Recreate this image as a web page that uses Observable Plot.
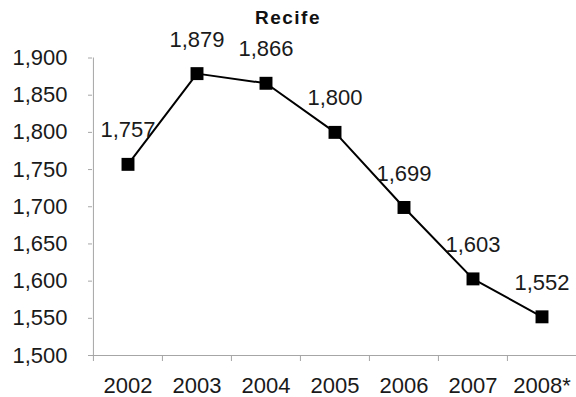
<!DOCTYPE html>
<html>
<head>
<meta charset="utf-8">
<script src="https://cdn.jsdelivr.net/npm/d3@7"></script>
<script src="https://cdn.jsdelivr.net/npm/@observablehq/plot@0.6"></script>
<style>
  html, body { margin: 0; padding: 0; background: #fff; }
  #wrap { position: relative; width: 576px; height: 397px; font-family: "Liberation Sans", Arial, sans-serif; }
  #title { position: absolute; left: 0; top: 8px; width: 576px; text-align: center;
           font-size: 19px; line-height: 19px; font-weight: bold; letter-spacing: 1.5px; color: #111; }
  #chart svg { display: block; }
</style>
</head>
<body>
<div id="wrap">
  <div id="chart"></div>
  <div id="title">Recife</div>
</div>
<script>
// Annual values for Recife (2008 marked as provisional)
const years = ["2002", "2003", "2004", "2005", "2006", "2007", "2008*"];
const values = [1757, 1879, 1866, 1800, 1699, 1603, 1552];
const yTicks = [1500, 1550, 1600, 1650, 1700, 1750, 1800, 1850, 1900];

const rows = years.map((year, i) => ({year, value: values[i]}));

const W = 576, H = 397;
const mL = 92, mR = 0, mT = 57.5, mB = 42;
const step = (W - mL - mR) / years.length;
const axisGray = "#a6a6a6";
const ink = "#1a1a1a";
const fs = 22;
const fmt = d3.format(",");

const chart = Plot.plot({
  width: W,
  height: H,
  marginLeft: mL,
  marginRight: mR,
  marginTop: mT,
  marginBottom: mB,
  style: {fontFamily: "'Liberation Sans', Arial, sans-serif", fontSize: fs + "px", color: ink, background: "#fff"},
  x: {type: "band", domain: years, padding: 0},
  y: {domain: [1500, 1900]},
  marks: [
    // axis lines
    Plot.ruleY([1500], {stroke: axisGray, insetLeft: -4}),
    Plot.ruleX([years[0]], {dx: -step / 2, y1: 1500, y2: 1900, stroke: axisGray}),
    // category boundary ticks below the x axis
    Plot.ruleX(years, {x: d => d, dx: -step / 2, y1: 1500, y2: 1500, insetBottom: -6, stroke: axisGray}),
    Plot.axisY(yTicks, {tickSize: 4, tickPadding: 21, tickFormat: fmt, stroke: axisGray, fill: ink, fontSize: fs, label: null}),
    Plot.axisX({tickSize: 0, tickPadding: 22, fill: ink, fontSize: fs, label: null}),
    // series
    Plot.line(rows, {x: "year", y: "value", stroke: "#000", strokeWidth: 2}),
    Plot.dot(rows, {x: "year", y: "value", symbol: "square", r: 7.3, fill: "#000", stroke: "none"}),
    Plot.text(rows, {x: "year", y: "value", text: d => fmt(d.value), dy: -34, fill: ink, fontSize: fs})
  ]
});

document.getElementById("chart").appendChild(chart);
</script>
</body>
</html>
